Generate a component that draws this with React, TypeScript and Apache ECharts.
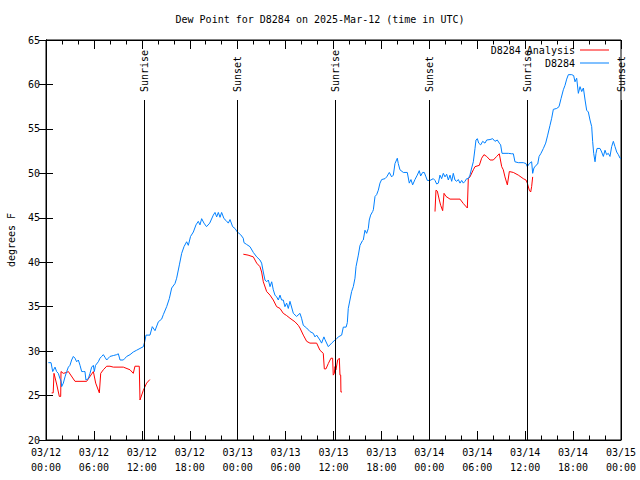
import React, { useEffect, useRef } from "react";
import * as echarts from "echarts";

const FONT = "DejaVu Sans Mono";
const FS = 10;

const titleText = "Dew Point for D8284 on 2025-Mar-12 (time in UTC)";
const yAxisName = "degrees F";
const analysisName = "D8284 Analysis";
const obsName = "D8284";

// hours since 2025-03-12 00:00 UTC
const obsHours = [
  0.29, 0.63, 0.84, 1.13, 1.33, 1.54, 1.75, 1.9, 1.96, 2.17, 2.38, 2.59, 2.8, 3.0, 3.21, 3.42, 3.63, 3.84, 4.05, 4.26,
  4.47, 4.67, 4.88, 5.0, 5.3, 5.51, 5.72, 5.93, 6.05, 6.2, 6.55, 6.76, 6.97, 7.18, 7.39, 7.6, 7.8, 8.01, 8.43, 8.85,
  9.06, 9.27, 9.68, 9.9, 10.1, 10.52, 10.93, 11.35, 11.77, 12.19, 12.4,
  12.52, 13.02, 13.31, 13.65, 14.07, 14.48, 14.69, 15.11, 15.44, 15.74, 16.15, 16.36, 16.7, 16.99, 17.28, 17.61,
  17.82, 18.1, 18.45, 18.78, 19.07, 19.28, 19.49, 19.78, 20.1, 20.5, 20.95, 21.16, 21.37, 21.58, 21.79, 21.99,
  22.29, 22.54, 22.83, 23.04, 23.37, 23.66, 23.96, 24.37, 24.7, 24.79, 25.12, 25.54, 25.96, 26.38, 26.79, 27.0,
  27.21, 27.42, 27.63, 27.84, 28.05, 28.26, 28.46, 28.67, 28.88, 29.09, 29.3, 29.5, 29.71, 29.92, 30.13, 30.34,
  30.55, 30.97, 31.38, 31.8, 32.0, 32.22, 32.64, 33.05, 33.47, 33.68, 33.89, 34.3, 34.51, 34.8, 34.93, 35.35,
  35.77, 36.18, 36.31, 36.6, 37.02, 37.23, 37.58, 37.73, 37.85, 38.06, 38.27, 38.48, 38.69, 38.82, 39.11, 39.32,
  39.61, 39.73, 39.94, 40.15, 40.36, 40.48, 40.65, 40.9, 40.99, 41.2, 41.4, 41.61, 41.82, 42.03, 42.45, 42.66,
  42.99, 43.28, 43.49, 43.7, 43.99, 44.11, 44.32, 44.74, 45.24, 45.49, 45.7, 45.91, 46.2, 46.49, 46.74, 46.91,
  47.16, 47.37, 47.58, 47.75, 48.08, 48.5, 48.71, 48.92, 49.13, 49.33, 49.54, 49.75, 49.96, 50.17, 50.38, 50.59,
  50.8, 51.0, 51.21, 51.42, 51.63, 51.84, 52.05, 52.26, 52.46, 52.67, 52.88, 53.09, 53.3, 53.51, 53.72, 53.84,
  54.01, 54.18, 54.43, 54.68, 54.97, 55.18, 55.6, 55.93, 56.22, 56.51, 56.76, 56.93, 57.1, 57.35, 57.89, 58.31,
  58.52, 58.72, 59.14, 59.77, 60.1, 60.27, 60.52, 60.81, 60.94, 61.1, 61.35, 61.57, 61.74, 61.98, 62.28, 62.57,
  62.82, 63.11, 63.32, 63.53, 63.95, 64.24, 64.49, 64.78, 64.99, 65.2, 65.41, 65.83, 66.07, 66.24, 66.45, 66.66,
  66.87, 67.08, 67.29, 67.5, 67.7, 67.91, 68.12, 68.33, 68.45, 68.58, 68.75, 68.87, 69.0, 69.37, 69.58, 69.79,
  70.0, 70.2, 70.41, 70.62, 70.83, 71.04, 71.25, 71.46, 71.67, 71.88, 72.0,
];
const obsValues = [
  28.7, 28.7, 27.7, 28.2, 27.7, 27.5, 26.9, 26.6, 26.0, 26.4, 27.1, 27.7, 28.2, 28.4, 29.0, 29.4, 29.2, 28.8, 29.0, 28.4,
  27.7, 27.7, 27.7, 26.75, 26.9, 27.5, 28.2, 28.4, 27.7, 28.4, 28.8, 29.2, 29.4, 29.6, 29.3, 29.0, 29.2, 29.4, 29.5, 29.6,
  29.7, 29.0, 29.0, 29.2, 29.4, 29.6, 29.9, 30.1, 30.3, 30.5, 31.2,
  31.8, 31.8, 32.75, 32.3, 33.3, 33.6, 34.1, 35.0, 35.9, 37.1, 37.6, 38.2, 39.7, 41.0, 41.75, 42.3,
  41.9, 42.9, 43.4, 44.2, 44.6, 44.2, 44.9, 44.4, 44.0, 44.4, 45.3, 45.6, 45.1, 45.6, 45.05, 45.6,
  44.9, 44.7, 44.4, 44.8, 44.0, 43.8, 43.4, 43.1, 42.7, 42.2, 42.0, 41.75, 41.1, 40.6, 40.25, 39.9,
  38.9, 38.0, 37.8, 38.0, 37.25, 37.8, 36.9, 36.3, 36.1, 35.75, 36.3, 35.75, 35.75, 35.0, 35.4, 34.8,
  35.6, 34.25, 33.9, 34.25, 33.7, 32.9, 32.6, 32.2, 32.0, 31.6, 31.8, 31.25, 30.9, 31.6, 31.3, 30.5,
  30.9, 31.25, 31.3, 31.6, 31.8, 32.7, 32.7, 33.2, 34.8, 35.75, 36.7, 37.25, 38.2, 39.5, 40.8, 41.9,
  42.4, 42.5, 43.6, 43.25, 43.8, 44.75, 45.3, 45.7, 45.9, 47.4, 47.6, 48.1, 48.9, 49.3, 49.4, 49.6,
  50.1, 49.6, 49.8, 51.1, 51.7, 51.1, 50.4, 50.1, 50.1, 48.9, 49.3, 48.7, 49.3, 49.8, 50.3, 49.7,
  50.1, 50.1, 49.6, 49.2, 49.2, 49.4, 49.2, 48.8, 48.9, 49.8, 49.4, 50.0, 49.6, 49.9, 49.25, 49.8,
  49.1, 50.0, 49.25, 49.1, 49.3, 48.9, 49.2, 48.9, 49.1, 49.4, 49.4, 49.8, 50.6, 51.3, 52.8, 53.75,
  53.9, 53.4, 53.2, 53.6, 53.4, 53.75, 53.8, 53.9, 53.6, 53.75, 53.4, 53.2, 52.25, 52.25, 52.25, 52.2,
  52.2, 51.3, 51.2, 51.2, 51.1, 50.75, 51.1, 51.3, 50.0, 50.6, 50.9, 51.05, 51.9, 52.25, 52.8, 53.4,
  54.3, 55.4, 56.2, 57.2, 57.3, 57.5, 58.4, 59.4, 59.9, 60.6, 61.1, 61.1, 61.0, 60.3, 60.7, 59.0,
  59.75, 59.2, 59.6, 58.25, 57.1, 56.9, 56.0, 55.25, 53.6, 52.25, 51.3, 52.25, 52.8, 52.8, 52.4, 51.9,
  52.6, 52.1, 52.25, 51.9, 53.0, 53.6, 53.0, 52.4, 52.1, 51.7, 51.7,
];

// analysis: three separate runs
const anaHours1 = [0.71, 0.9, 1.0, 1.33, 1.67, 1.84, 1.88, 2.17, 2.59, 2.8, 3.63, 5.09, 5.93, 6.22, 6.68, 6.85, 7.18, 7.6, 8.01, 8.43, 9.68, 10.52, 10.93, 11.14, 11.68, 11.77, 12.19, 12.6, 13.0];
const anaValues1 = [25.3, 25.3, 27.5, 26.3, 24.9, 24.9, 27.7, 27.5, 27.6, 27.7, 26.6, 26.6, 27.7, 26.4, 25.3, 27.5, 27.9, 28.3, 28.3, 28.2, 28.2, 27.9, 27.5, 28.3, 28.3, 24.5, 25.6, 26.4, 26.8];
const anaHours2 = [24.71, 25.3, 25.96, 26.17, 26.38, 26.79, 27.0, 27.21, 27.63, 28.05, 28.46, 28.88, 29.3, 29.71, 30.13, 30.55, 31.17, 31.59, 31.8, 32.22, 32.64, 33.05, 33.89, 34.3, 34.72, 34.85, 35.06, 35.35, 35.68, 35.89, 35.97, 36.1, 36.18, 36.31, 36.52, 36.73, 36.81, 36.9, 36.93, 37.06];
const anaValues2 = [40.9, 40.8, 40.6, 40.25, 39.9, 39.5, 38.9, 37.8, 36.7, 36.3, 35.75, 35.0, 34.8, 34.25, 34.0, 33.7, 33.3, 32.9, 32.6, 31.8, 31.1, 30.9, 30.9, 30.1, 29.75, 28.0, 28.0, 28.6, 29.2, 29.2, 27.3, 27.5, 28.25, 27.9, 29.0, 29.2, 27.3, 27.3, 25.4, 25.4];
const anaHours3 = [48.71, 48.83, 49.0, 49.25, 49.42, 49.67, 49.84, 50.09, 50.59, 51.84, 52.26, 52.76, 52.88, 53.09, 53.51, 53.72, 54.26, 54.55, 54.84, 55.18, 55.6, 56.01, 56.43, 56.76, 57.06, 57.26, 57.47, 57.77, 58.02, 58.52, 59.14, 59.77, 60.1, 60.27, 60.52, 60.69, 60.81, 60.94];
const anaValues3 = [45.7, 48.1, 48.0, 47.0, 46.4, 45.8, 47.75, 47.4, 47.1, 47.1, 46.6, 46.1, 49.4, 49.6, 50.4, 50.75, 50.9, 51.7, 52.1, 51.9, 51.5, 51.5, 51.9, 52.2, 50.75, 50.4, 49.6, 48.7, 50.2, 50.1, 49.8, 49.4, 49.25, 48.9, 48.1, 47.9, 48.5, 49.6];

const sunHours = [12.31, 23.96, 36.23, 48.0, 60.27, 72.0];
const sunLabels = ["Sunrise", "Sunset", "Sunrise", "Sunset", "Sunrise", "Sunset"];
const sunLineTop = 58.25;

const xMin = 0, xMax = 72, xStep = 6;
const yMin = 20, yMax = 65, yStep = 5;

function pairs(hs: number[], vs: number[]) {
  return hs.map((h, i) => [h, vs[i]]);
}

function xLabel(v: number) {
  const d = 12 + Math.floor(v / 24);
  const hh = v % 24;
  return `03/${d}\n${String(hh).padStart(2, "0")}:00`;
}

export default function App() {
  const ref = useRef<HTMLDivElement>(null);
  useEffect(() => {
    document.body.style.margin = "0";
    const chart = echarts.init(ref.current!, undefined, { renderer: "svg" });
    const anaData: any[] = [
      ...pairs(anaHours1, anaValues1),
      [13.5, null],
      ...pairs(anaHours2, anaValues2),
      [40, null],
      ...pairs(anaHours3, anaValues3),
    ];
    const tickCommon = {
      axisLine: { show: true, lineStyle: { color: "#000", width: 1 } },
      splitLine: { show: false },
    };
    chart.setOption({
      animation: false,
      backgroundColor: "#fff",
      title: {
        text: titleText,
        left: "center",
        top: 14,
        padding: 0,
        textStyle: { fontFamily: FONT, fontSize: FS, fontWeight: "normal", color: "#000" },
      },
      legend: {
        data: [analysisName, obsName],
        orient: "vertical",
        align: "right",
        right: 31,
        top: 44,
        padding: 0,
        itemGap: 1,
        itemWidth: 29,
        itemHeight: 1,
        icon: "rect",
        textStyle: { fontFamily: FONT, fontSize: FS, color: "#000", lineHeight: 12 },
      },
      grid: {
        left: 46, right: 19, top: 40, bottom: 40,
        show: true, borderColor: "#000", borderWidth: 1,
        containLabel: false, outerBoundsMode: "none",
      },
      xAxis: [
        {
          type: "value", position: "bottom", min: xMin, max: xMax, interval: xStep,
          ...tickCommon,
          axisTick: { show: true, inside: true, length: 9, lineStyle: { color: "#000" } },
          minorTick: { show: true, splitNumber: 3, length: 4.5, lineStyle: { color: "#000" } },
          axisLabel: { formatter: xLabel, fontFamily: FONT, fontSize: FS, color: "#000", lineHeight: 15, margin: 5 },
        },
        {
          type: "value", position: "top", min: xMin, max: xMax, interval: xStep,
          ...tickCommon,
          axisTick: { show: true, inside: true, length: 9, lineStyle: { color: "#000" } },
          minorTick: { show: true, splitNumber: 3, length: 4.5, lineStyle: { color: "#000" } },
          axisLabel: { show: false },
        },
      ],
      yAxis: [
        {
          type: "value", position: "left", min: yMin, max: yMax, interval: yStep,
          ...tickCommon,
          axisTick: { show: true, inside: true, length: 7, lineStyle: { color: "#000" } },
          axisLabel: { fontFamily: FONT, fontSize: FS, color: "#000", margin: 6 },
          name: yAxisName,
          nameLocation: "middle",
          nameGap: 30,
          nameTextStyle: { fontFamily: FONT, fontSize: FS, color: "#000" },
        },
        {
          type: "value", position: "right", min: yMin, max: yMax, interval: yStep,
          ...tickCommon,
          axisTick: { show: true, inside: true, length: 7, lineStyle: { color: "#000" } },
          axisLabel: { show: false },
        },
      ],
      series: [
        {
          type: "custom",
          name: "sun",
          xAxisIndex: 0,
          yAxisIndex: 0,
          data: sunHours.map((h) => [h]),
          encode: { x: 0 },
          clip: false,
          z: 5,
          renderItem: (params: any, api: any) => {
            const h = api.value(0);
            const top = api.coord([h, sunLineTop]);
            const bot = api.coord([h, yMin]);
            const x = Math.round(top[0]) + 0.5;
            return {
              type: "group",
              children: [
                { type: "line", shape: { x1: x, y1: top[1], x2: x, y2: bot[1] }, style: { stroke: "#000", lineWidth: 1 } },
                {
                  type: "text",
                  x: x,
                  y: top[1] - 8,
                  rotation: Math.PI / 2,
                  style: { text: sunLabels[params.dataIndex], align: "left", verticalAlign: "middle", fontFamily: FONT, fontSize: FS, fill: "#000" },
                },
              ],
            };
          },
        },
        {
          type: "line",
          name: analysisName,
          data: anaData,
          showSymbol: false,
          symbol: "none",
          connectNulls: false,
          lineStyle: { color: "#ff0000", width: 1 },
          itemStyle: { color: "#ff0000" },
          z: 3,
        },
        {
          type: "line",
          name: obsName,
          data: pairs(obsHours, obsValues),
          showSymbol: false,
          symbol: "none",
          lineStyle: { color: "#0080ff", width: 1 },
          itemStyle: { color: "#0080ff" },
          z: 4,
        },
      ],
    });
    return () => chart.dispose();
  }, []);
  return <div ref={ref} style={{ width: 640, height: 480 }} />;
}
